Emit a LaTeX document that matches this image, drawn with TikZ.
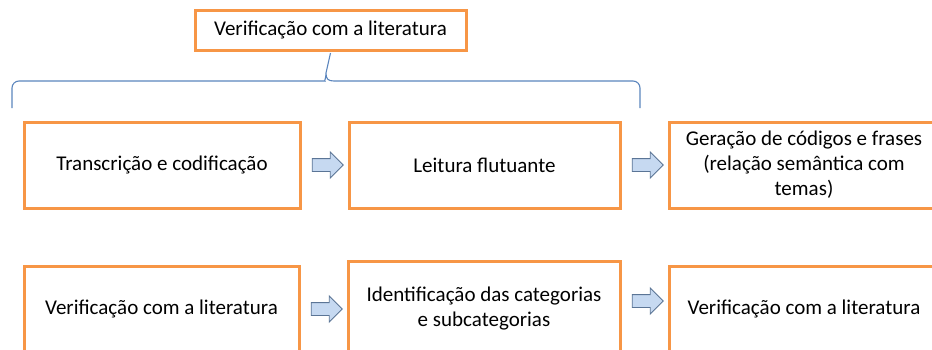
\documentclass[tikz,border=0pt]{standalone}
\usepackage{fontspec}
\setmainfont{Carlito}
\usepackage{tikz}
\usetikzlibrary{positioning,calc,shapes.arrows}

\definecolor{boxorange}{HTML}{F79646}
\definecolor{arrowfill}{HTML}{C6D9F1}
\definecolor{arrowline}{HTML}{5B7596}
\definecolor{bracecol}{HTML}{5B85BD}

\begin{document}
\begin{tikzpicture}[x=1pt, y=-1pt,
    stagebox/.style={draw=boxorange, line width=3pt, outer sep=0pt, fill=white, minimum width=276pt, minimum height=86pt, align=center, font=\fontsize{21}{25}\selectfont},
    flowarrow/.style={single arrow, draw=arrowline, fill=arrowfill, line width=0.9pt, minimum height=31pt, minimum width=25pt, inner sep=6pt, single arrow head extend=6.5pt},
    bracket/.style={draw=bracecol, line width=1.1pt}
    ]
        \useasboundingbox (0,0) rectangle (932,349);

        %Nodes
        \node[stagebox, minimum width=271pt, minimum height=40pt]
            (verif) at (330.5,30)   {Verificação com a literatura};
        \node[stagebox]
            (trans) at (162,165)    {Transcrição e codificação};
        \node[stagebox, minimum width=271pt]
            (leit)  [right=49pt of trans]   {Leitura flutuante};
        \node[stagebox, minimum width=270pt]
            (ger)   [right=49pt of leit]    {Geração de códigos e frases\\(relação semântica com\\temas)};
        \node[stagebox, minimum width=275pt]
            (verA)  at (161.5,309)  {Verificação com a literatura};
        \node[stagebox, minimum width=272pt, minimum height=96pt]
            (ident) [right=49pt of verA]    {Identificação das categorias\\e subcategorias};
        \node[stagebox, minimum width=270pt]
            (verB)  [right=49pt of ident]   {Verificação com a literatura};

        \node[flowarrow] (a1) at ($(trans.east)!0.5!(leit.west)$) {};
        \node[flowarrow] (a2) at ($(leit.east)!0.5!(ger.west)$) {};
        \node[flowarrow] (a3) at ($(verA.east)!0.5!(ident.west)$) {};
        \node[flowarrow] (a4) at ([yshift=8pt]$(ident.east)!0.5!(verB.west)$) {};

        %Brace
        \coordinate (tip) at ([yshift=-3pt]verif.south);
        \draw[bracket] (12,108) [rounded corners=7pt] |- (318,81) [sharp corners]
            .. controls (324,81) and (326,79) .. (326,73) -- (tip)
            (326,73) .. controls (326,79) and (328,81) .. (334,81)
            [rounded corners=7pt] -| (640,108);
    \end{tikzpicture}
\end{document}
